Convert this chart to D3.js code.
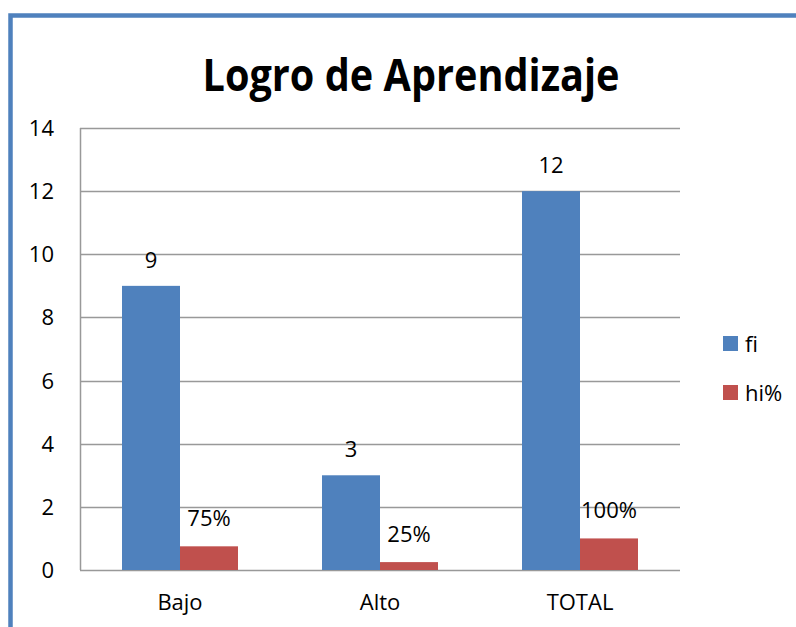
<!DOCTYPE html>
<html>
<head>
<meta charset="utf-8">
<script src="https://cdn.jsdelivr.net/npm/d3@7"></script>
<style>
  html, body { margin: 0; padding: 0; background: #fff; }
  svg { display: block; }
</style>
</head>
<body>
<div id="chart"></div>
<script>
const categories = ["Bajo", "Alto", "TOTAL"];
const seriesNames = ["fi", "hi%"];
const fiValues = [9, 3, 12];
const hiValues = [0.75, 0.25, 1];
const hiLabels = ["75%", "25%", "100%"];
const yTicks = [0, 2, 4, 6, 8, 10, 12, 14];

const width = 796;
const height = 627;
const margin = { top: 128, right: 116, bottom: 57, left: 80 };
const colors = { "fi": "#4F81BD", "hi%": "#C0504D" };
const font = "Open Sans, Liberation Sans, sans-serif";
const fontSize = 22;

const svg = d3.select("#chart").append("svg")
  .attr("width", width)
  .attr("height", height);

// marco azul (solo se ven arriba y a la izquierda)
svg.append("path")
  .attr("d", `M10.5,${height} L10.5,15.5 L${width},15.5`)
  .attr("fill", "none")
  .attr("stroke", "#4F81BD")
  .attr("stroke-width", 4.5);

svg.append("text")
  .attr("x", 411)
  .attr("y", 91)
  .attr("text-anchor", "middle")
  .attr("font-family", font)
  .attr("font-weight", "bold")
  .attr("font-size", 45)
  .attr("textLength", 417)
  .attr("lengthAdjust", "spacingAndGlyphs")
  .text("Logro de Aprendizaje");

const x0 = d3.scaleBand()
  .domain(categories)
  .range([margin.left, width - margin.right])
  .paddingInner(0.42)
  .paddingOuter(0.21);

const x1 = d3.scaleBand()
  .domain(seriesNames)
  .range([0, x0.bandwidth()]);

const y = d3.scaleLinear()
  .domain([0, 14])
  .range([height - margin.bottom, margin.top]);

// líneas de cuadrícula
svg.append("g")
  .selectAll("line")
  .data(yTicks)
  .join("line")
  .attr("x1", margin.left)
  .attr("x2", width - margin.right)
  .attr("y1", d => Math.round(y(d)) + 0.5)
  .attr("y2", d => Math.round(y(d)) + 0.5)
  .attr("stroke", "#999")
  .attr("stroke-width", 1.5);

// eje vertical
svg.append("line")
  .attr("x1", margin.left + 0.5)
  .attr("x2", margin.left + 0.5)
  .attr("y1", y(14))
  .attr("y2", y(0))
  .attr("stroke", "#999")
  .attr("stroke-width", 1.5);

svg.append("g")
  .selectAll("text")
  .data(yTicks)
  .join("text")
  .attr("x", 54)
  .attr("y", d => y(d) + 8)
  .attr("text-anchor", "end")
  .attr("font-family", font)
  .attr("font-size", fontSize)
  .text(d => d);

svg.append("g")
  .selectAll("text")
  .data(categories)
  .join("text")
  .attr("x", d => x0(d) + x0.bandwidth() / 2)
  .attr("y", 610)
  .attr("text-anchor", "middle")
  .attr("font-family", font)
  .attr("font-size", fontSize)
  .text(d => d);

const groups = svg.append("g")
  .selectAll("g")
  .data(categories.map((c, i) => ({ c, fi: fiValues[i], hi: hiValues[i], hiLabel: hiLabels[i] })))
  .join("g")
  .attr("transform", d => `translate(${x0(d.c)},0)`);

groups.append("rect")
  .attr("x", x1("fi"))
  .attr("y", d => y(d.fi))
  .attr("width", x1.bandwidth())
  .attr("height", d => y(0) - y(d.fi))
  .attr("fill", colors["fi"]);

groups.append("rect")
  .attr("x", x1("hi%"))
  .attr("y", d => y(d.hi))
  .attr("width", x1.bandwidth())
  .attr("height", d => y(0) - y(d.hi))
  .attr("fill", colors["hi%"]);

groups.append("text")
  .attr("x", x1("fi") + x1.bandwidth() / 2)
  .attr("y", d => y(d.fi) - 18)
  .attr("text-anchor", "middle")
  .attr("font-family", font)
  .attr("font-size", fontSize)
  .text(d => d.fi);

groups.append("text")
  .attr("x", x1("hi%") + x1.bandwidth() / 2)
  .attr("y", d => y(d.hi) - 20)
  .attr("text-anchor", "middle")
  .attr("font-family", font)
  .attr("font-size", fontSize)
  .text(d => d.hiLabel);

// leyenda
const legend = svg.append("g")
  .selectAll("g")
  .data(seriesNames)
  .join("g")
  .attr("transform", (d, i) => `translate(723,${336 + i * 49})`);

legend.append("rect")
  .attr("width", 15)
  .attr("height", 15)
  .attr("fill", d => colors[d]);

legend.append("text")
  .attr("x", 22)
  .attr("y", 16)
  .attr("font-family", font)
  .attr("font-size", fontSize)
  .text(d => d);
</script>
</body>
</html>
